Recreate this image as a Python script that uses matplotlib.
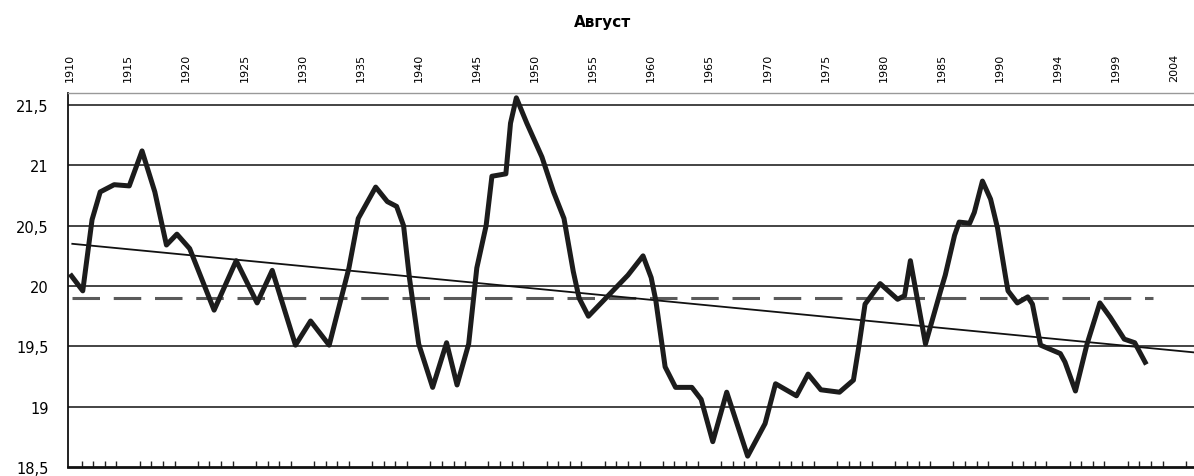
import matplotlib.pyplot as plt
import numpy as np

# positions along the category axis (0 = 1910) and August temperature
t = [0.0, 1.1, 1.9, 2.6, 3.8, 5.1, 6.2, 7.3, 8.3, 9.2, 10.3, 12.4, 14.3, 16.1,
     17.4, 19.4, 20.7, 22.3, 24.0, 24.8, 26.3, 27.3, 28.1, 28.7, 29.2, 30.0,
     31.2, 32.4, 33.3, 34.3, 35.0, 35.8, 36.3, 37.5, 37.9, 38.4, 39.3, 40.6,
     41.6, 42.5, 43.3, 43.8, 44.6, 46.1, 48.0, 49.3, 50.0, 50.4, 51.2, 52.1,
     53.5, 54.3, 55.3, 56.5, 58.3, 59.8, 60.7, 62.5, 63.5, 64.6, 66.2, 67.4,
     67.9, 68.4, 69.7, 71.2, 71.8, 72.3, 73.6, 74.9, 75.3, 76.1, 76.5, 77.4,
     77.8, 78.5, 79.2, 79.8, 80.5, 80.7, 81.5, 82.4, 82.8, 83.5, 85.2, 85.6,
     86.5, 87.5, 88.6, 89.5, 90.7, 91.6, 92.6]
temp = [20.10, 19.96, 20.55, 20.78, 20.84, 20.83, 21.12, 20.78, 20.34, 20.43,
        20.31, 19.80, 20.21, 19.86, 20.13, 19.51, 19.71, 19.51, 20.15, 20.56,
        20.82, 20.70, 20.66, 20.50, 20.07, 19.52, 19.16, 19.53, 19.18, 19.52,
        20.15, 20.50, 20.91, 20.93, 21.35, 21.56, 21.35, 21.07, 20.78, 20.56,
        20.12, 19.90, 19.75, 19.90, 20.09, 20.25, 20.07, 19.88, 19.33, 19.16,
        19.16, 19.06, 18.71, 19.12, 18.59, 18.86, 19.19, 19.09, 19.27, 19.14,
        19.12, 19.22, 19.52, 19.85, 20.02, 19.89, 19.92, 20.21, 19.52, 19.96,
        20.09, 20.42, 20.53, 20.52, 20.61, 20.87, 20.72, 20.48, 20.07, 19.96,
        19.86, 19.91, 19.85, 19.51, 19.44, 19.37, 19.13, 19.52, 19.86, 19.74,
        19.56, 19.53, 19.35]

mean_x = [0.2, 93.2]
mean_y = [19.9, 19.9]
trend_x = [0.2, 96.7]
trend_y = [20.35, 19.45]

year_labels = ['1910', '1915', '1920', '1925', '1930', '1935', '1940', '1945',
               '1950', '1955', '1960', '1965', '1970', '1975', '1980', '1985',
               '1990', '1994', '1999', '2004']
y_ticks = [18.5, 19, 19.5, 20, 20.5, 21, 21.5]
y_labels = ['18,5', '19', '19,5', '20', '20,5', '21', '21,5']

fig = plt.figure(figsize=(11.94, 4.77), dpi=100)
ax = fig.add_axes([68 / 1194, 9 / 477, 1 - 68 / 1194, 374 / 477])

for v in y_ticks[1:]:
    ax.axhline(v, color='#111111', lw=1.1, zorder=1)

ax.plot(mean_x, mean_y, color='#5a5a5a', lw=2.2, dashes=(9, 4.5), zorder=2)
ax.plot(trend_x, trend_y, color='#111111', lw=1.3, zorder=3)
ax.plot(t, temp, color='#1c1c1c', lw=3.6, solid_joinstyle='round',
        solid_capstyle='butt', zorder=4)

ax.set_xlim(-0.17, 96.7)
ax.set_ylim(18.5, 21.6)

ax.set_xticks(np.arange(0, 100, 5))
ax.set_xticklabels(year_labels, rotation=90, fontsize=8)
ax.set_xticks(np.arange(1, 97), minor=True)
ax.tick_params(axis='x', which='major', top=False, bottom=False,
               labeltop=True, labelbottom=False, length=0, pad=9)
ax.tick_params(axis='x', which='minor', top=False, bottom=True,
               direction='in', length=4, width=1, color='#222222')

ax.set_yticks(y_ticks)
ax.set_yticklabels(y_labels, fontsize=10.5)
ax.tick_params(axis='y', length=0, pad=14)

ax.spines['right'].set_visible(False)
ax.spines['top'].set_color('#999999')
ax.spines['top'].set_linewidth(1)
ax.spines['left'].set_color('#111111')
ax.spines['left'].set_linewidth(1.3)
ax.spines['bottom'].set_color('#111111')
ax.spines['bottom'].set_linewidth(2)

fig.text(603 / 1194, 1 - 22 / 477, 'Август', ha='center', va='center',
         fontsize=11, fontweight='bold')

fig.savefig('out.png', dpi=100)
